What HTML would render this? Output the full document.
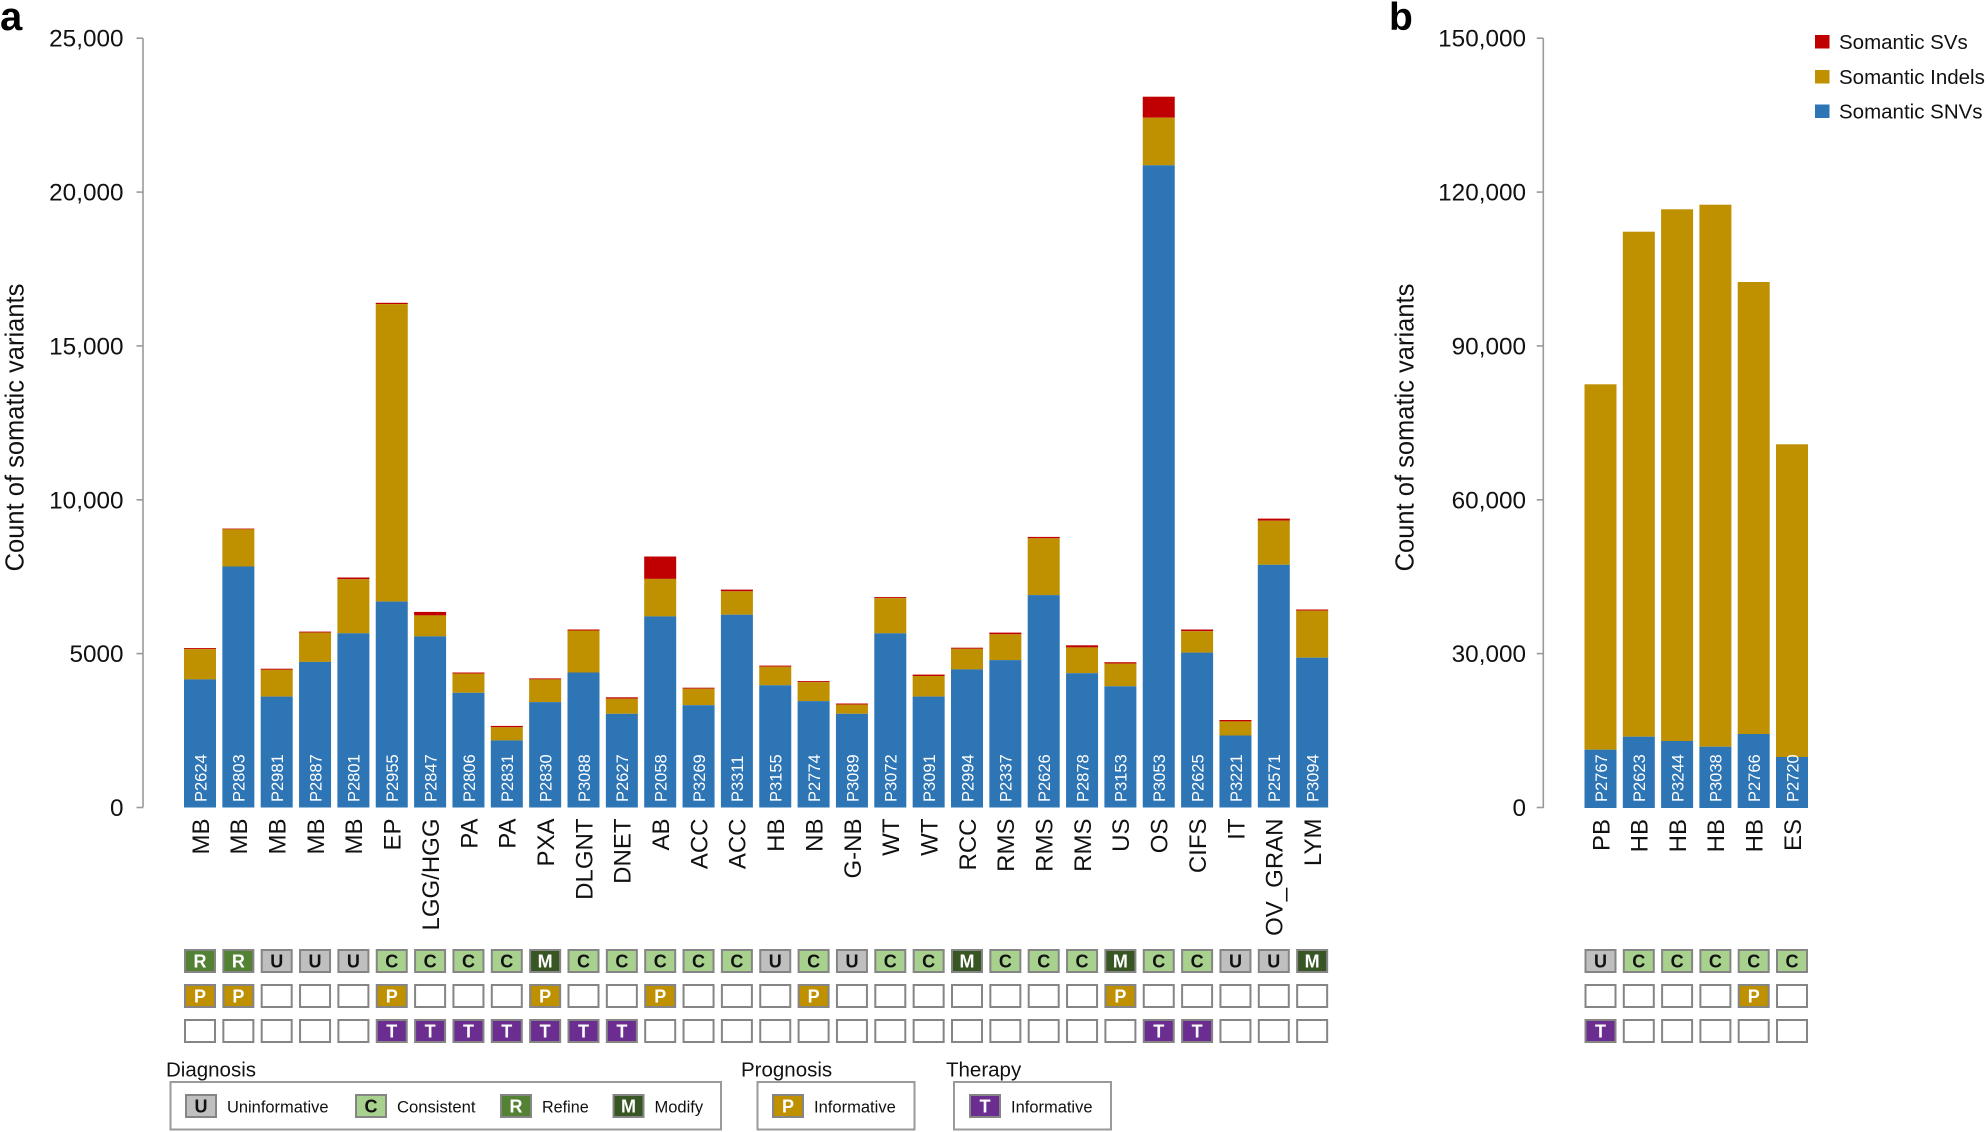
<!DOCTYPE html>
<html>
<head>
<meta charset="utf-8">
<style>
html,body{margin:0;padding:0;background:#fff;overflow:hidden;}
svg{display:block;font-family:"Liberation Sans",Arial,sans-serif;}
.tk{font-size:24.3px;fill:#111;text-anchor:end;}
.ax{stroke:#9a9a9a;stroke-width:1.6;fill:none;}
.b{fill:#2e75b6;}
.g{fill:#bf9000;}
.r{fill:#c00000;}
.pid{font-size:16.5px;fill:#fff;}
.cat{font-size:24px;fill:#111;text-anchor:end;}
.bx{stroke:#858585;stroke-width:2;}
.e{fill:#fff;}
.U{fill:#bfbfbf;}
.C{fill:#a9d18e;}
.R{fill:#548235;}
.M{fill:#375623;}
.P{fill:#bf9000;}
.T{fill:#6b2d90;}
.lk{font-size:18px;font-weight:bold;text-anchor:middle;fill:#111;}
.lw{font-size:18px;font-weight:bold;text-anchor:middle;fill:#fff;}
.lt{font-size:16.5px;fill:#111;}
.ttl{font-size:20.5px;fill:#111;}
.leg{font-size:20.5px;fill:#111;}
.yl{font-size:25.5px;fill:#111;text-anchor:middle;}
</style>
</head>
<body>
<svg width="1986" height="1132" viewBox="0 0 1986 1132" xmlns="http://www.w3.org/2000/svg">
<!-- panel labels -->
<text x="0" y="30" font-size="40" font-weight="bold" fill="#000">a</text>
<text x="1389" y="30" font-size="39" font-weight="bold" fill="#000">b</text>

<!-- Y axis label a -->
<text class="yl" transform="translate(23.3,427.5) rotate(-90)">Count of somatic variants</text>
<text class="yl" transform="translate(1413.3,427.5) rotate(-90)">Count of somatic variants</text>

<!-- axis a -->
<line class="ax" x1="143" y1="38.2" x2="143" y2="807.5"/>
<line class="ax" x1="136.5" y1="807.5" x2="143" y2="807.5"/>
<line class="ax" x1="136.5" y1="653.6" x2="143" y2="653.6"/>
<line class="ax" x1="136.5" y1="499.8" x2="143" y2="499.8"/>
<line class="ax" x1="136.5" y1="345.9" x2="143" y2="345.9"/>
<line class="ax" x1="136.5" y1="192.1" x2="143" y2="192.1"/>
<line class="ax" x1="136.5" y1="38.2" x2="143" y2="38.2"/>
<text class="tk" x="123.5" y="816">0</text>
<text class="tk" x="123.5" y="662.1">5000</text>
<text class="tk" x="123.5" y="508.3">10,000</text>
<text class="tk" x="123.5" y="354.4">15,000</text>
<text class="tk" x="123.5" y="200.6">20,000</text>
<text class="tk" x="123.5" y="46.7">25,000</text>

<!-- axis b -->
<line class="ax" x1="1543.3" y1="38.2" x2="1543.3" y2="808"/>
<line class="ax" x1="1536.7" y1="807.5" x2="1543.3" y2="807.5"/>
<line class="ax" x1="1536.7" y1="653.6" x2="1543.3" y2="653.6"/>
<line class="ax" x1="1536.7" y1="499.8" x2="1543.3" y2="499.8"/>
<line class="ax" x1="1536.7" y1="345.9" x2="1543.3" y2="345.9"/>
<line class="ax" x1="1536.7" y1="192.1" x2="1543.3" y2="192.1"/>
<line class="ax" x1="1536.7" y1="38.2" x2="1543.3" y2="38.2"/>
<text class="tk" x="1526" y="816">0</text>
<text class="tk" x="1526" y="662.1">30,000</text>
<text class="tk" x="1526" y="508.3">60,000</text>
<text class="tk" x="1526" y="354.4">90,000</text>
<text class="tk" x="1526" y="200.6">120,000</text>
<text class="tk" x="1526" y="46.7">150,000</text>

<!-- legend top right -->
<rect x="1815" y="35" width="14.5" height="13.5" class="r"/>
<rect x="1815" y="70" width="14.5" height="13.5" class="g"/>
<rect x="1815" y="104.5" width="14.5" height="13.5" class="b"/>
<text class="leg" x="1839" y="49">Somantic SVs</text>
<text class="leg" x="1839" y="84">Somantic Indels</text>
<text class="leg" x="1839" y="118.7">Somantic SNVs</text>

<!-- bars panel a -->
<g>
<rect class="r" x="184" y="648.1" width="32" height="1.0"/><rect class="g" x="184" y="649.1" width="32" height="30.3"/><rect class="b" x="184" y="679.4" width="32" height="128.1"/>
<rect class="r" x="222.35" y="528.6" width="32" height="0.8"/><rect class="g" x="222.35" y="529.3" width="32" height="37.2"/><rect class="b" x="222.35" y="566.5" width="32" height="241.0"/>
<rect class="r" x="260.7" y="668.7" width="32" height="1.1"/><rect class="g" x="260.7" y="669.8" width="32" height="26.8"/><rect class="b" x="260.7" y="696.6" width="32" height="110.9"/>
<rect class="r" x="299.05" y="631.6" width="32" height="1.0"/><rect class="g" x="299.05" y="632.6" width="32" height="29.3"/><rect class="b" x="299.05" y="661.9" width="32" height="145.6"/>
<rect class="r" x="337.4" y="577.5" width="32" height="1.7"/><rect class="g" x="337.4" y="579.2" width="32" height="54.1"/><rect class="b" x="337.4" y="633.3" width="32" height="174.2"/>
<rect class="r" x="375.75" y="302.8" width="32" height="1.3"/><rect class="g" x="375.75" y="304.1" width="32" height="297.5"/><rect class="b" x="375.75" y="601.6" width="32" height="205.9"/>
<rect class="r" x="414.1" y="611.9" width="32" height="3.5"/><rect class="g" x="414.1" y="615.4" width="32" height="21.0"/><rect class="b" x="414.1" y="636.4" width="32" height="171.1"/>
<rect class="r" x="452.45" y="672.5" width="32" height="1.1"/><rect class="g" x="452.45" y="673.6" width="32" height="19.2"/><rect class="b" x="452.45" y="692.8" width="32" height="114.7"/>
<rect class="r" x="490.8" y="725.9" width="32" height="1.4"/><rect class="g" x="490.8" y="727.3" width="32" height="13.1"/><rect class="b" x="490.8" y="740.4" width="32" height="67.1"/>
<rect class="r" x="529.15" y="678.4" width="32" height="1.0"/><rect class="g" x="529.15" y="679.4" width="32" height="22.7"/><rect class="b" x="529.15" y="702.1" width="32" height="105.4"/>
<rect class="r" x="567.5" y="629.5" width="32" height="1.0"/><rect class="g" x="567.5" y="630.5" width="32" height="42.0"/><rect class="b" x="567.5" y="672.5" width="32" height="135.0"/>
<rect class="r" x="605.85" y="697.3" width="32" height="1.4"/><rect class="g" x="605.85" y="698.7" width="32" height="15.1"/><rect class="b" x="605.85" y="713.8" width="32" height="93.7"/>
<rect class="r" x="644.2" y="556.5" width="32" height="22.4"/><rect class="g" x="644.2" y="578.9" width="32" height="37.5"/><rect class="b" x="644.2" y="616.4" width="32" height="191.1"/>
<rect class="r" x="682.55" y="687.7" width="32" height="1.0"/><rect class="g" x="682.55" y="688.7" width="32" height="16.5"/><rect class="b" x="682.55" y="705.2" width="32" height="102.3"/>
<rect class="r" x="720.9" y="589.6" width="32" height="1.7"/><rect class="g" x="720.9" y="591.3" width="32" height="23.4"/><rect class="b" x="720.9" y="614.7" width="32" height="192.8"/>
<rect class="r" x="759.25" y="665.6" width="32" height="1.1"/><rect class="g" x="759.25" y="666.7" width="32" height="18.6"/><rect class="b" x="759.25" y="685.3" width="32" height="122.2"/>
<rect class="r" x="797.6" y="681.1" width="32" height="1.1"/><rect class="g" x="797.6" y="682.2" width="32" height="18.9"/><rect class="b" x="797.6" y="701.1" width="32" height="106.4"/>
<rect class="r" x="835.95" y="703.5" width="32" height="1.1"/><rect class="g" x="835.95" y="704.6" width="32" height="9.2"/><rect class="b" x="835.95" y="713.8" width="32" height="93.7"/>
<rect class="r" x="874.3" y="597.1" width="32" height="1.1"/><rect class="g" x="874.3" y="598.2" width="32" height="35.1"/><rect class="b" x="874.3" y="633.3" width="32" height="174.2"/>
<rect class="r" x="912.65" y="674.6" width="32" height="1.4"/><rect class="g" x="912.65" y="676.0" width="32" height="20.6"/><rect class="b" x="912.65" y="696.6" width="32" height="110.9"/>
<rect class="r" x="951.0" y="647.7" width="32" height="1.1"/><rect class="g" x="951.0" y="648.8" width="32" height="20.6"/><rect class="b" x="951.0" y="669.4" width="32" height="138.1"/>
<rect class="r" x="989.35" y="632.6" width="32" height="1.7"/><rect class="g" x="989.35" y="634.3" width="32" height="25.8"/><rect class="b" x="989.35" y="660.1" width="32" height="147.4"/>
<rect class="r" x="1027.7" y="536.9" width="32" height="1.4"/><rect class="g" x="1027.7" y="538.3" width="32" height="56.8"/><rect class="b" x="1027.7" y="595.1" width="32" height="212.4"/>
<rect class="r" x="1066.05" y="645.3" width="32" height="2.1"/><rect class="g" x="1066.05" y="647.4" width="32" height="25.8"/><rect class="b" x="1066.05" y="673.2" width="32" height="134.3"/>
<rect class="r" x="1104.4" y="662.2" width="32" height="1.4"/><rect class="g" x="1104.4" y="663.6" width="32" height="22.7"/><rect class="b" x="1104.4" y="686.3" width="32" height="121.2"/>
<rect class="r" x="1142.75" y="96.7" width="32" height="21.0"/><rect class="g" x="1142.75" y="117.7" width="32" height="47.6"/><rect class="b" x="1142.75" y="165.3" width="32" height="642.2"/>
<rect class="r" x="1181.1" y="629.5" width="32" height="1.7"/><rect class="g" x="1181.1" y="631.2" width="32" height="21.4"/><rect class="b" x="1181.1" y="652.6" width="32" height="154.9"/>
<rect class="r" x="1219.45" y="720.0" width="32" height="1.4"/><rect class="g" x="1219.45" y="721.4" width="32" height="14.1"/><rect class="b" x="1219.45" y="735.5" width="32" height="72.0"/>
<rect class="r" x="1257.8" y="518.6" width="32" height="2.1"/><rect class="g" x="1257.8" y="520.7" width="32" height="44.1"/><rect class="b" x="1257.8" y="564.8" width="32" height="242.7"/>
<rect class="r" x="1296.15" y="609.5" width="32" height="1.1"/><rect class="g" x="1296.15" y="610.6" width="32" height="47.1"/><rect class="b" x="1296.15" y="657.7" width="32" height="149.8"/>
</g>

<!-- bars panel b -->
<g>
<rect class="g" x="1584.5" y="384.3" width="32" height="365.4"/><rect class="b" x="1584.5" y="749.7" width="32" height="58.3"/>
<rect class="g" x="1622.8" y="231.7" width="32" height="505.0"/><rect class="b" x="1622.8" y="736.7" width="32" height="71.3"/>
<rect class="g" x="1661.1" y="209.3" width="32" height="531.7"/><rect class="b" x="1661.1" y="741.0" width="32" height="67.0"/>
<rect class="g" x="1699.4" y="204.7" width="32" height="542.0"/><rect class="b" x="1699.4" y="746.7" width="32" height="61.3"/>
<rect class="g" x="1737.7" y="282.0" width="32" height="452.0"/><rect class="b" x="1737.7" y="734.0" width="32" height="74.0"/>
<rect class="g" x="1776.0" y="444.3" width="32" height="312.7"/><rect class="b" x="1776.0" y="757.0" width="32" height="51.0"/>
</g>

<!-- patient IDs panel a -->
<g class="pid">
<text transform="translate(206.3,802) rotate(-90)">P2624</text>
<text transform="translate(244.65,802) rotate(-90)">P2803</text>
<text transform="translate(283.0,802) rotate(-90)">P2981</text>
<text transform="translate(321.35,802) rotate(-90)">P2887</text>
<text transform="translate(359.7,802) rotate(-90)">P2801</text>
<text transform="translate(398.05,802) rotate(-90)">P2955</text>
<text transform="translate(436.4,802) rotate(-90)">P2847</text>
<text transform="translate(474.75,802) rotate(-90)">P2806</text>
<text transform="translate(513.1,802) rotate(-90)">P2831</text>
<text transform="translate(551.45,802) rotate(-90)">P2830</text>
<text transform="translate(589.8,802) rotate(-90)">P3088</text>
<text transform="translate(628.15,802) rotate(-90)">P2627</text>
<text transform="translate(666.5,802) rotate(-90)">P2058</text>
<text transform="translate(704.85,802) rotate(-90)">P3269</text>
<text transform="translate(743.2,802) rotate(-90)">P3311</text>
<text transform="translate(781.55,802) rotate(-90)">P3155</text>
<text transform="translate(819.9,802) rotate(-90)">P2774</text>
<text transform="translate(858.25,802) rotate(-90)">P3089</text>
<text transform="translate(896.6,802) rotate(-90)">P3072</text>
<text transform="translate(934.95,802) rotate(-90)">P3091</text>
<text transform="translate(973.3,802) rotate(-90)">P2994</text>
<text transform="translate(1011.65,802) rotate(-90)">P2337</text>
<text transform="translate(1050.0,802) rotate(-90)">P2626</text>
<text transform="translate(1088.35,802) rotate(-90)">P2878</text>
<text transform="translate(1126.7,802) rotate(-90)">P3153</text>
<text transform="translate(1165.05,802) rotate(-90)">P3053</text>
<text transform="translate(1203.4,802) rotate(-90)">P2625</text>
<text transform="translate(1241.75,802) rotate(-90)">P3221</text>
<text transform="translate(1280.1,802) rotate(-90)">P2571</text>
<text transform="translate(1318.45,802) rotate(-90)">P3094</text>
<text transform="translate(1606.8,802) rotate(-90)">P2767</text>
<text transform="translate(1645.1,802) rotate(-90)">P2623</text>
<text transform="translate(1683.4,802) rotate(-90)">P3244</text>
<text transform="translate(1721.7,802) rotate(-90)">P3038</text>
<text transform="translate(1760.0,802) rotate(-90)">P2766</text>
<text transform="translate(1798.3,802) rotate(-90)">P2720</text>
</g>

<!-- category labels -->
<g class="cat">
<text transform="translate(208.8,818.5) rotate(-90)">MB</text>
<text transform="translate(247.15,818.5) rotate(-90)">MB</text>
<text transform="translate(285.5,818.5) rotate(-90)">MB</text>
<text transform="translate(323.85,818.5) rotate(-90)">MB</text>
<text transform="translate(362.2,818.5) rotate(-90)">MB</text>
<text transform="translate(400.55,818.5) rotate(-90)">EP</text>
<text transform="translate(438.9,818.5) rotate(-90)">LGG/HGG</text>
<text transform="translate(477.25,818.5) rotate(-90)">PA</text>
<text transform="translate(515.6,818.5) rotate(-90)">PA</text>
<text transform="translate(553.95,818.5) rotate(-90)">PXA</text>
<text transform="translate(592.3,818.5) rotate(-90)">DLGNT</text>
<text transform="translate(630.65,818.5) rotate(-90)">DNET</text>
<text transform="translate(669.0,818.5) rotate(-90)">AB</text>
<text transform="translate(707.35,818.5) rotate(-90)">ACC</text>
<text transform="translate(745.7,818.5) rotate(-90)">ACC</text>
<text transform="translate(784.05,818.5) rotate(-90)">HB</text>
<text transform="translate(822.4,818.5) rotate(-90)">NB</text>
<text transform="translate(860.75,818.5) rotate(-90)">G-NB</text>
<text transform="translate(899.1,818.5) rotate(-90)">WT</text>
<text transform="translate(937.45,818.5) rotate(-90)">WT</text>
<text transform="translate(975.8,818.5) rotate(-90)">RCC</text>
<text transform="translate(1014.15,818.5) rotate(-90)">RMS</text>
<text transform="translate(1052.5,818.5) rotate(-90)">RMS</text>
<text transform="translate(1090.85,818.5) rotate(-90)">RMS</text>
<text transform="translate(1129.2,818.5) rotate(-90)">US</text>
<text transform="translate(1167.55,818.5) rotate(-90)">OS</text>
<text transform="translate(1205.9,818.5) rotate(-90)">CIFS</text>
<text transform="translate(1244.25,818.5) rotate(-90)">IT</text>
<text transform="translate(1282.6,818.5) rotate(-90)">OV_GRAN</text>
<text transform="translate(1320.95,818.5) rotate(-90)">LYM</text>
<text transform="translate(1609.3,819) rotate(-90)">PB</text>
<text transform="translate(1647.6,819) rotate(-90)">HB</text>
<text transform="translate(1685.9,819) rotate(-90)">HB</text>
<text transform="translate(1724.2,819) rotate(-90)">HB</text>
<text transform="translate(1762.5,819) rotate(-90)">HB</text>
<text transform="translate(1800.8,819) rotate(-90)">ES</text>
</g>

<!-- annotation row 1: diagnosis -->
<g>
<rect class="bx R" x="185" y="950" width="30" height="22"/><text class="lw" x="200.0" y="967.5">R</text>
<rect class="bx R" x="223.35" y="950" width="30" height="22"/><text class="lw" x="238.35" y="967.5">R</text>
<rect class="bx U" x="261.7" y="950" width="30" height="22"/><text class="lk" x="276.7" y="967.5">U</text>
<rect class="bx U" x="300.05" y="950" width="30" height="22"/><text class="lk" x="315.05" y="967.5">U</text>
<rect class="bx U" x="338.4" y="950" width="30" height="22"/><text class="lk" x="353.4" y="967.5">U</text>
<rect class="bx C" x="376.75" y="950" width="30" height="22"/><text class="lk" x="391.75" y="967.5">C</text>
<rect class="bx C" x="415.1" y="950" width="30" height="22"/><text class="lk" x="430.1" y="967.5">C</text>
<rect class="bx C" x="453.45" y="950" width="30" height="22"/><text class="lk" x="468.45" y="967.5">C</text>
<rect class="bx C" x="491.8" y="950" width="30" height="22"/><text class="lk" x="506.8" y="967.5">C</text>
<rect class="bx M" x="530.15" y="950" width="30" height="22"/><text class="lw" x="545.15" y="967.5">M</text>
<rect class="bx C" x="568.5" y="950" width="30" height="22"/><text class="lk" x="583.5" y="967.5">C</text>
<rect class="bx C" x="606.85" y="950" width="30" height="22"/><text class="lk" x="621.85" y="967.5">C</text>
<rect class="bx C" x="645.2" y="950" width="30" height="22"/><text class="lk" x="660.2" y="967.5">C</text>
<rect class="bx C" x="683.55" y="950" width="30" height="22"/><text class="lk" x="698.55" y="967.5">C</text>
<rect class="bx C" x="721.9" y="950" width="30" height="22"/><text class="lk" x="736.9" y="967.5">C</text>
<rect class="bx U" x="760.25" y="950" width="30" height="22"/><text class="lk" x="775.25" y="967.5">U</text>
<rect class="bx C" x="798.6" y="950" width="30" height="22"/><text class="lk" x="813.6" y="967.5">C</text>
<rect class="bx U" x="836.95" y="950" width="30" height="22"/><text class="lk" x="851.95" y="967.5">U</text>
<rect class="bx C" x="875.3" y="950" width="30" height="22"/><text class="lk" x="890.3" y="967.5">C</text>
<rect class="bx C" x="913.65" y="950" width="30" height="22"/><text class="lk" x="928.65" y="967.5">C</text>
<rect class="bx M" x="952.0" y="950" width="30" height="22"/><text class="lw" x="967.0" y="967.5">M</text>
<rect class="bx C" x="990.35" y="950" width="30" height="22"/><text class="lk" x="1005.35" y="967.5">C</text>
<rect class="bx C" x="1028.7" y="950" width="30" height="22"/><text class="lk" x="1043.7" y="967.5">C</text>
<rect class="bx C" x="1067.05" y="950" width="30" height="22"/><text class="lk" x="1082.05" y="967.5">C</text>
<rect class="bx M" x="1105.4" y="950" width="30" height="22"/><text class="lw" x="1120.4" y="967.5">M</text>
<rect class="bx C" x="1143.75" y="950" width="30" height="22"/><text class="lk" x="1158.75" y="967.5">C</text>
<rect class="bx C" x="1182.1" y="950" width="30" height="22"/><text class="lk" x="1197.1" y="967.5">C</text>
<rect class="bx U" x="1220.45" y="950" width="30" height="22"/><text class="lk" x="1235.45" y="967.5">U</text>
<rect class="bx U" x="1258.8" y="950" width="30" height="22"/><text class="lk" x="1273.8" y="967.5">U</text>
<rect class="bx M" x="1297.15" y="950" width="30" height="22"/><text class="lw" x="1312.15" y="967.5">M</text>
<rect class="bx U" x="1585.5" y="950" width="30" height="22"/><text class="lk" x="1600.5" y="967.5">U</text>
<rect class="bx C" x="1623.8" y="950" width="30" height="22"/><text class="lk" x="1638.8" y="967.5">C</text>
<rect class="bx C" x="1662.1" y="950" width="30" height="22"/><text class="lk" x="1677.1" y="967.5">C</text>
<rect class="bx C" x="1700.4" y="950" width="30" height="22"/><text class="lk" x="1715.4" y="967.5">C</text>
<rect class="bx C" x="1738.7" y="950" width="30" height="22"/><text class="lk" x="1753.7" y="967.5">C</text>
<rect class="bx C" x="1777.0" y="950" width="30" height="22"/><text class="lk" x="1792.0" y="967.5">C</text>
</g>

<!-- annotation row 2: prognosis -->
<g>
<rect class="bx P" x="185" y="985" width="30" height="22"/><text class="lw" x="200.0" y="1002.5">P</text>
<rect class="bx P" x="223.35" y="985" width="30" height="22"/><text class="lw" x="238.35" y="1002.5">P</text>
<rect class="bx e" x="261.7" y="985" width="30" height="22"/>
<rect class="bx e" x="300.05" y="985" width="30" height="22"/>
<rect class="bx e" x="338.4" y="985" width="30" height="22"/>
<rect class="bx P" x="376.75" y="985" width="30" height="22"/><text class="lw" x="391.75" y="1002.5">P</text>
<rect class="bx e" x="415.1" y="985" width="30" height="22"/>
<rect class="bx e" x="453.45" y="985" width="30" height="22"/>
<rect class="bx e" x="491.8" y="985" width="30" height="22"/>
<rect class="bx P" x="530.15" y="985" width="30" height="22"/><text class="lw" x="545.15" y="1002.5">P</text>
<rect class="bx e" x="568.5" y="985" width="30" height="22"/>
<rect class="bx e" x="606.85" y="985" width="30" height="22"/>
<rect class="bx P" x="645.2" y="985" width="30" height="22"/><text class="lw" x="660.2" y="1002.5">P</text>
<rect class="bx e" x="683.55" y="985" width="30" height="22"/>
<rect class="bx e" x="721.9" y="985" width="30" height="22"/>
<rect class="bx e" x="760.25" y="985" width="30" height="22"/>
<rect class="bx P" x="798.6" y="985" width="30" height="22"/><text class="lw" x="813.6" y="1002.5">P</text>
<rect class="bx e" x="836.95" y="985" width="30" height="22"/>
<rect class="bx e" x="875.3" y="985" width="30" height="22"/>
<rect class="bx e" x="913.65" y="985" width="30" height="22"/>
<rect class="bx e" x="952.0" y="985" width="30" height="22"/>
<rect class="bx e" x="990.35" y="985" width="30" height="22"/>
<rect class="bx e" x="1028.7" y="985" width="30" height="22"/>
<rect class="bx e" x="1067.05" y="985" width="30" height="22"/>
<rect class="bx P" x="1105.4" y="985" width="30" height="22"/><text class="lw" x="1120.4" y="1002.5">P</text>
<rect class="bx e" x="1143.75" y="985" width="30" height="22"/>
<rect class="bx e" x="1182.1" y="985" width="30" height="22"/>
<rect class="bx e" x="1220.45" y="985" width="30" height="22"/>
<rect class="bx e" x="1258.8" y="985" width="30" height="22"/>
<rect class="bx e" x="1297.15" y="985" width="30" height="22"/>
<rect class="bx e" x="1585.5" y="985" width="30" height="22"/>
<rect class="bx e" x="1623.8" y="985" width="30" height="22"/>
<rect class="bx e" x="1662.1" y="985" width="30" height="22"/>
<rect class="bx e" x="1700.4" y="985" width="30" height="22"/>
<rect class="bx P" x="1738.7" y="985" width="30" height="22"/><text class="lw" x="1753.7" y="1002.5">P</text>
<rect class="bx e" x="1777.0" y="985" width="30" height="22"/>
</g>

<!-- annotation row 3: therapy -->
<g>
<rect class="bx e" x="185" y="1020" width="30" height="22"/>
<rect class="bx e" x="223.35" y="1020" width="30" height="22"/>
<rect class="bx e" x="261.7" y="1020" width="30" height="22"/>
<rect class="bx e" x="300.05" y="1020" width="30" height="22"/>
<rect class="bx e" x="338.4" y="1020" width="30" height="22"/>
<rect class="bx T" x="376.75" y="1020" width="30" height="22"/><text class="lw" x="391.75" y="1037.5">T</text>
<rect class="bx T" x="415.1" y="1020" width="30" height="22"/><text class="lw" x="430.1" y="1037.5">T</text>
<rect class="bx T" x="453.45" y="1020" width="30" height="22"/><text class="lw" x="468.45" y="1037.5">T</text>
<rect class="bx T" x="491.8" y="1020" width="30" height="22"/><text class="lw" x="506.8" y="1037.5">T</text>
<rect class="bx T" x="530.15" y="1020" width="30" height="22"/><text class="lw" x="545.15" y="1037.5">T</text>
<rect class="bx T" x="568.5" y="1020" width="30" height="22"/><text class="lw" x="583.5" y="1037.5">T</text>
<rect class="bx T" x="606.85" y="1020" width="30" height="22"/><text class="lw" x="621.85" y="1037.5">T</text>
<rect class="bx e" x="645.2" y="1020" width="30" height="22"/>
<rect class="bx e" x="683.55" y="1020" width="30" height="22"/>
<rect class="bx e" x="721.9" y="1020" width="30" height="22"/>
<rect class="bx e" x="760.25" y="1020" width="30" height="22"/>
<rect class="bx e" x="798.6" y="1020" width="30" height="22"/>
<rect class="bx e" x="836.95" y="1020" width="30" height="22"/>
<rect class="bx e" x="875.3" y="1020" width="30" height="22"/>
<rect class="bx e" x="913.65" y="1020" width="30" height="22"/>
<rect class="bx e" x="952.0" y="1020" width="30" height="22"/>
<rect class="bx e" x="990.35" y="1020" width="30" height="22"/>
<rect class="bx e" x="1028.7" y="1020" width="30" height="22"/>
<rect class="bx e" x="1067.05" y="1020" width="30" height="22"/>
<rect class="bx e" x="1105.4" y="1020" width="30" height="22"/>
<rect class="bx T" x="1143.75" y="1020" width="30" height="22"/><text class="lw" x="1158.75" y="1037.5">T</text>
<rect class="bx T" x="1182.1" y="1020" width="30" height="22"/><text class="lw" x="1197.1" y="1037.5">T</text>
<rect class="bx e" x="1220.45" y="1020" width="30" height="22"/>
<rect class="bx e" x="1258.8" y="1020" width="30" height="22"/>
<rect class="bx e" x="1297.15" y="1020" width="30" height="22"/>
<rect class="bx T" x="1585.5" y="1020" width="30" height="22"/><text class="lw" x="1600.5" y="1037.5">T</text>
<rect class="bx e" x="1623.8" y="1020" width="30" height="22"/>
<rect class="bx e" x="1662.1" y="1020" width="30" height="22"/>
<rect class="bx e" x="1700.4" y="1020" width="30" height="22"/>
<rect class="bx e" x="1738.7" y="1020" width="30" height="22"/>
<rect class="bx e" x="1777.0" y="1020" width="30" height="22"/>
</g>

<!-- bottom legends -->
<text class="ttl" x="166" y="1076.5">Diagnosis</text>
<text class="ttl" x="741" y="1076.5">Prognosis</text>
<text class="ttl" x="946" y="1076.5">Therapy</text>

<rect x="170.5" y="1082" width="550.5" height="47.5" fill="none" stroke="#9a9a9a" stroke-width="2"/>
<rect x="757.5" y="1082" width="157" height="47.5" fill="none" stroke="#9a9a9a" stroke-width="2"/>
<rect x="954" y="1082" width="157" height="47.5" fill="none" stroke="#9a9a9a" stroke-width="2"/>

<rect class="bx U" x="186" y="1095" width="30" height="22"/><text class="lk" x="201" y="1112.5">U</text>
<text class="lt" x="227" y="1112.3" textLength="101.5" lengthAdjust="spacingAndGlyphs">Uninformative</text>
<rect class="bx C" x="356" y="1095" width="30" height="22"/><text class="lk" x="371" y="1112.5">C</text>
<text class="lt" x="397" y="1112.3" textLength="78.5" lengthAdjust="spacingAndGlyphs">Consistent</text>
<rect class="bx R" x="501" y="1095" width="30" height="22"/><text class="lw" x="516" y="1112.5">R</text>
<text class="lt" x="542" y="1112.3" textLength="46.7" lengthAdjust="spacingAndGlyphs">Refine</text>
<rect class="bx M" x="613.5" y="1095" width="30" height="22"/><text class="lw" x="628.5" y="1112.5">M</text>
<text class="lt" x="654.5" y="1112.3" textLength="48.6" lengthAdjust="spacingAndGlyphs">Modify</text>

<rect class="bx P" x="773" y="1095" width="30" height="22"/><text class="lw" x="788" y="1112.5">P</text>
<text class="lt" x="814" y="1112.3" textLength="81.8" lengthAdjust="spacingAndGlyphs">Informative</text>

<rect class="bx T" x="970" y="1095" width="30" height="22"/><text class="lw" x="985" y="1112.5">T</text>
<text class="lt" x="1011" y="1112.3" textLength="81.5" lengthAdjust="spacingAndGlyphs">Informative</text>
</svg>
</body>
</html>
